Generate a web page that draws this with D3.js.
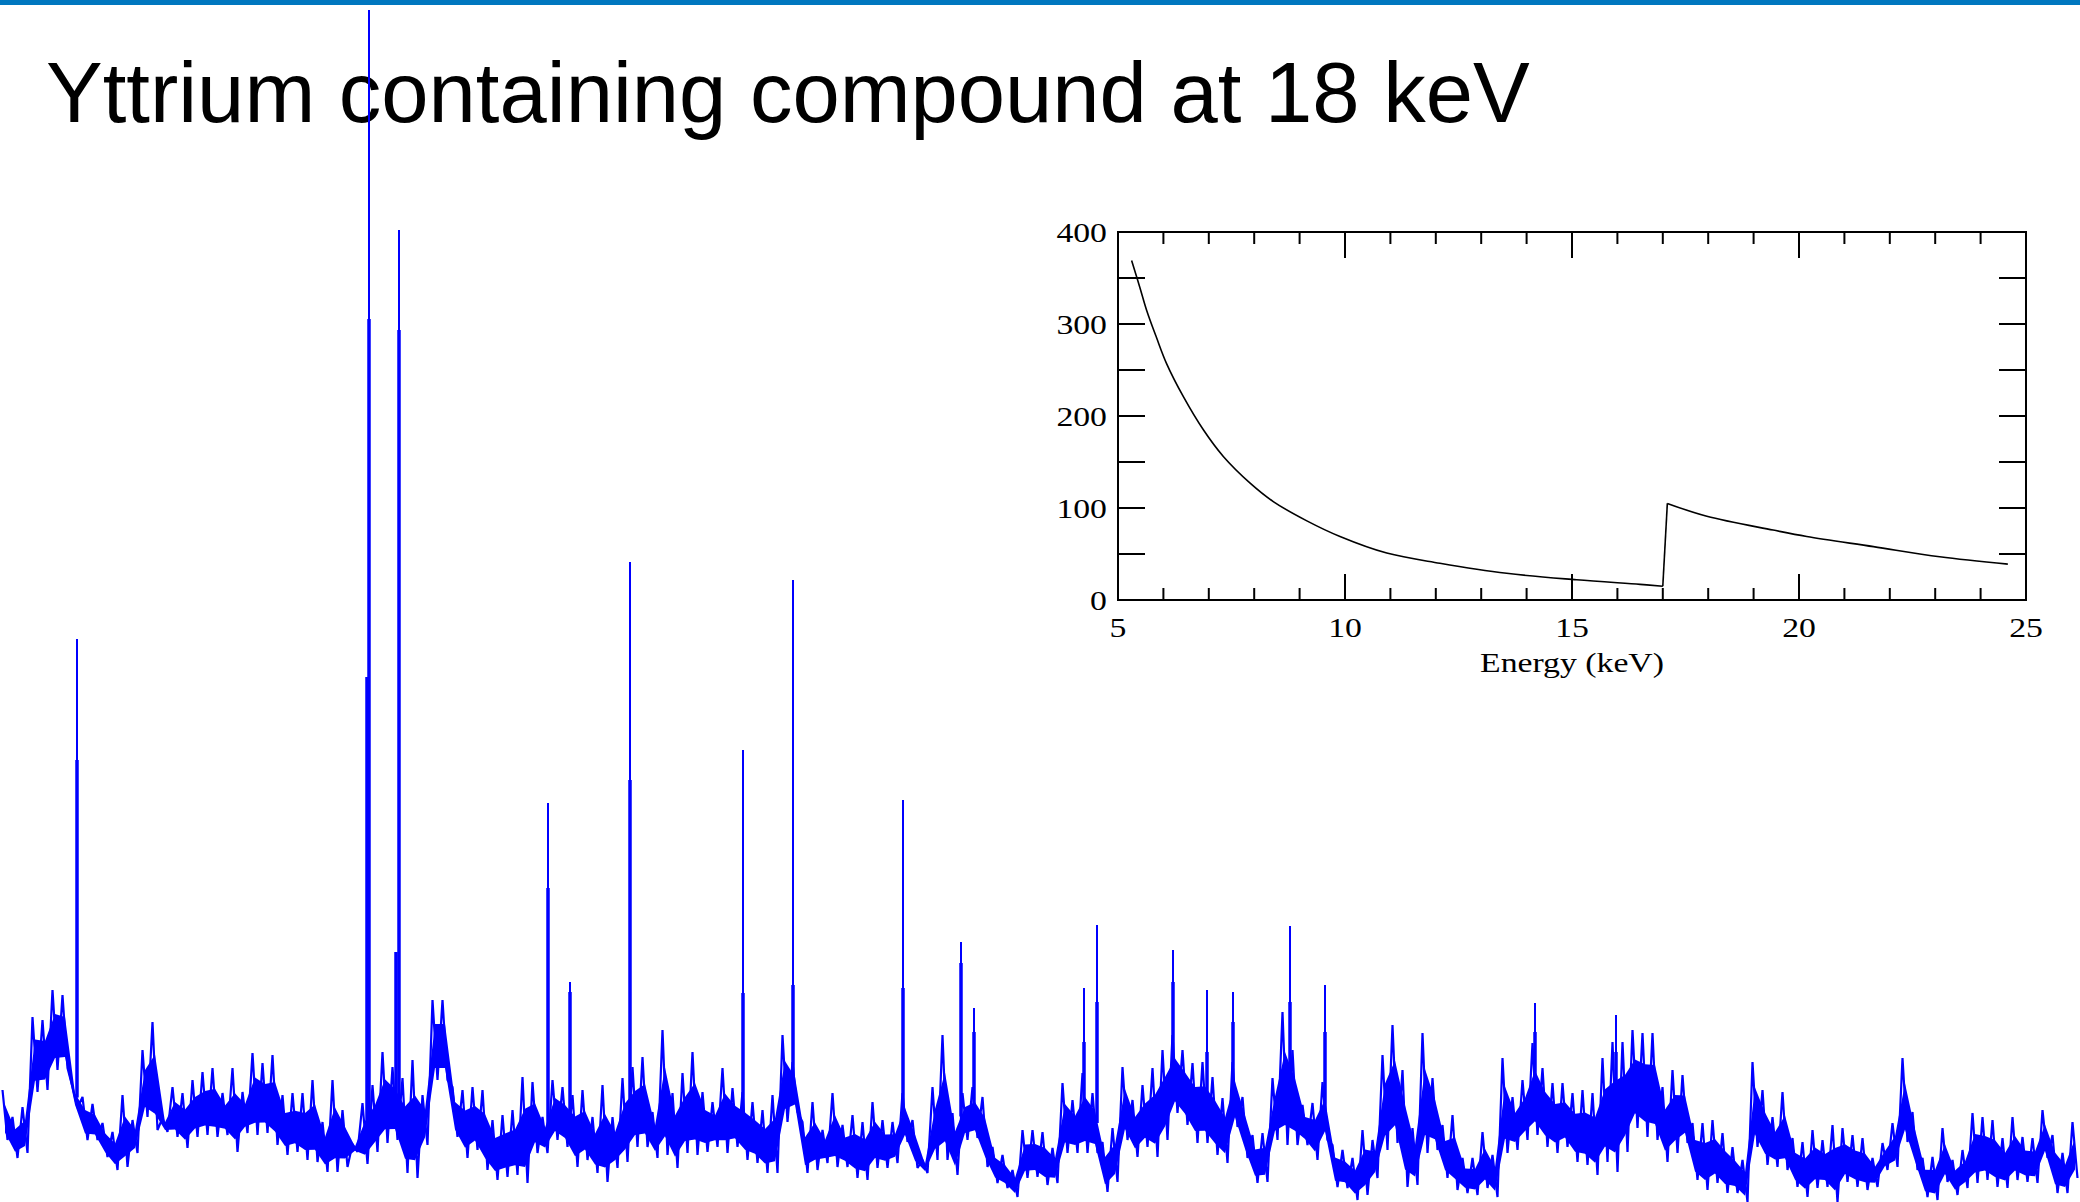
<!DOCTYPE html>
<html>
<head>
<meta charset="utf-8">
<script src="https://cdn.jsdelivr.net/npm/d3@7"></script>
<style>
  body { margin: 0; background: #fff; }
  svg { display: block; }
</style>
</head>
<body>
<div id="chart"></div>
<script>
// slide size
var W = 2080, H = 1202;

var title = "Yttrium containing compound at 18 keV";

// diffraction pattern, binned 10 channels wide: max and min counts per bin
var binWidth = 10;
var binHi = [
  112, 85, 95, 185, 182, 212, 207, 115, 105, 98, 79, 70, 107, 82, 152, 180, 84, 115, 109, 122,
  130, 134, 109, 134, 110, 149, 139, 147, 107, 109, 109, 122, 80, 122, 92, 58, 99, 117, 150, 135,
  124, 142, 107, 202, 202, 115, 112, 115, 112, 82, 87, 92, 125, 120, 85, 122, 115, 107, 112, 85,
  117, 85, 124, 135, 145, 90, 172, 109, 129, 150, 110, 100, 134, 114, 110, 100, 92, 107, 167, 140,
  80, 100, 72, 109, 77, 87, 80, 100, 82, 80, 109, 82, 42, 115, 167, 89, 109, 115, 105, 55,
  47, 32, 72, 72, 70, 54, 119, 102, 129, 109, 60, 74, 135, 102, 117, 134, 152, 167, 152, 139,
  140, 125, 104, 140, 105, 67, 69, 124, 190, 152, 97, 99, 120, 57, 52, 44, 72, 62, 147, 177,
  132, 74, 169, 124, 77, 87, 44, 44, 70, 47, 144, 105, 122, 159, 134, 119, 119, 109, 112, 109,
  144, 160, 160, 172, 169, 169, 115, 132, 127, 79, 79, 82, 69, 55, 42, 140, 112, 85, 110, 64,
  60, 72, 62, 77, 74, 67, 64, 44, 59, 79, 144, 90, 44, 45, 74, 42, 52, 89, 85, 82,
  64, 85, 65, 64, 92, 67, 49, 80
];
var binLo = [
  62, 44, 49, 110, 112, 132, 134, 94, 62, 62, 45, 32, 35, 49, 85, 72, 70, 65, 54, 65,
  67, 65, 67, 50, 69, 67, 69, 57, 47, 50, 42, 40, 30, 30, 35, 50, 38, 50, 59, 62,
  29, 24, 57, 122, 122, 65, 44, 52, 32, 22, 25, 27, 19, 49, 49, 62, 55, 35, 42, 29,
  20, 34, 40, 55, 55, 44, 47, 34, 49, 47, 50, 55, 49, 55, 42, 39, 29, 29, 80, 90,
  29, 32, 39, 35, 35, 24, 22, 34, 34, 39, 60, 34, 29, 42, 42, 27, 62, 64, 35, 19,
  14, 5, 24, 25, 17, 19, 49, 49, 49, 49, 10, 20, 62, 45, 55, 45, 62, 89, 77, 59,
  59, 47, 39, 75, 44, 19, 20, 62, 57, 57, 57, 42, 62, 15, 14, 2, 7, 24, 52, 59,
  15, 17, 49, 52, 24, 12, 9, 7, 14, 5, 49, 52, 62, 67, 55, 49, 55, 40, 37, 27,
  40, 30, 50, 74, 65, 62, 40, 49, 59, 22, 12, 19, 9, 9, 0, 55, 37, 35, 32, 15,
  5, 14, 15, 0, 20, 15, 12, 15, 32, 35, 60, 32, 5, 2, 20, 7, 14, 19, 22, 15,
  14, 22, 20, 19, 44, 9, 9, 24
];

// Bragg peaks: channel, apex counts, counts where the peak is still wide
var peakChan     = [77, 367, 369, 396, 399, 548, 570, 630, 743, 793, 903, 961, 974, 1084, 1097, 1173, 1207, 1233, 1290, 1325, 1535, 1616];
var peakTop      = [563, 525, 1192, 250, 972, 399, 220, 640, 452, 622, 402, 260, 194, 214, 277, 252, 212, 210, 276, 217, 199, 187];
var peakShoulder = [442, 525, 883, 250, 872, 314, 210, 422, 209, 217, 214, 239, 170, 160, 200, 220, 150, 180, 200, 170, 170, 150];

// inset: absorption vs energy (Y K edge near 17 keV)
var energy = [5.30, 5.48, 5.63, 5.85, 6.07, 6.44, 6.88, 7.32, 7.91, 8.42, 9.16, 9.89, 10.92, 12.09, 13.56, 15.10, 16.50, 17.00, 17.10, 17.97, 19.43, 20.17, 21.64, 23.10, 24.60];
var absorb = [369, 340, 315, 285, 257, 221, 185, 156, 127, 107, 86, 69, 51, 40, 29, 22, 17, 15, 105, 91, 76, 69, 58, 47, 39];
var edgeIndex = 17;
var xTicksMajor = [5, 10, 15, 20, 25];
var yTicksMajor = [0, 100, 200, 300, 400];
var xLabel = "Energy (keV)";

var svg = d3.select("#chart").append("svg")
    .attr("width", W)
    .attr("height", H);

// top banner line
svg.append("rect")
    .attr("x", 0).attr("y", 0)
    .attr("width", W).attr("height", 5)
    .attr("fill", "#0077bf");

// title
svg.append("text")
    .attr("x", 46)
    .attr("y", 122)
    .attr("font-family", "Liberation Sans, Arial, sans-serif")
    .attr("font-size", 85)
    .attr("fill", "#000")
    .text(title);

//////////
// PATTERN //
//////////
var x = d3.scaleLinear().domain([0, 2080]).range([0, W]);
var y = d3.scaleLinear().domain([0, 1200]).range([1202, 2]);

var bins = binHi.map(function (h, i) {
    return { c: i * binWidth + binWidth / 2, hi: h, lo: binLo[i] };
});

// dense core of the noise band
var core = d3.area()
    .x(function (d) { return x(d.c); })
    .y0(function (d) { return y(d.lo + (d.hi - d.lo) * 0.15); })
    .y1(function (d) { return y(d.hi - (d.hi - d.lo) * 0.3); });

svg.append("path")
    .datum(bins)
    .attr("d", core)
    .attr("fill", "#0000ff");

// noise excursions: max then min inside every bin
var zig = [];
bins.forEach(function (d) {
    zig.push([d.c - 2.5, d.hi]);
    zig.push([d.c + 2.5, d.lo]);
});

svg.append("path")
    .datum(zig)
    .attr("d", d3.line()
        .x(function (d) { return x(d[0]); })
        .y(function (d) { return y(d[1]); }))
    .attr("fill", "none")
    .attr("stroke", "#0000ff")
    .attr("stroke-width", 2.2)
    .attr("stroke-linejoin", "bevel");

function baseAt(c) {
    var b = bins[Math.min(bins.length - 1, Math.floor(c / binWidth))];
    return (b.hi + b.lo) / 2;
}

var peaks = svg.append("g").attr("stroke", "#0000ff");
peakChan.forEach(function (c, i) {
    peaks.append("line")
        .attr("x1", x(c)).attr("x2", x(c))
        .attr("y1", y(baseAt(c))).attr("y2", y(peakShoulder[i]))
        .attr("stroke-width", 3.5);
    peaks.append("line")
        .attr("x1", x(c)).attr("x2", x(c))
        .attr("y1", y(baseAt(c))).attr("y2", y(peakTop[i]))
        .attr("stroke-width", 2);
});

//////////
// INSET //
//////////
var ix = d3.scaleLinear().domain([5, 25]).range([1118, 2026]);
var iy = d3.scaleLinear().domain([0, 400]).range([600, 232]);
var inset = svg.append("g")
    .attr("stroke", "#000")
    .attr("fill", "none");

inset.append("rect")
    .attr("x", ix(5)).attr("y", iy(400))
    .attr("width", ix(25) - ix(5)).attr("height", iy(0) - iy(400))
    .attr("stroke-width", 2);

// x ticks every 1 keV, longer every 5, on bottom and top
d3.range(6, 25).forEach(function (e) {
    var len = (e % 5 === 0) ? 26 : 12;
    inset.append("line")
        .attr("x1", ix(e)).attr("x2", ix(e))
        .attr("y1", iy(0)).attr("y2", iy(0) - len)
        .attr("stroke-width", 2);
    inset.append("line")
        .attr("x1", ix(e)).attr("x2", ix(e))
        .attr("y1", iy(400)).attr("y2", iy(400) + len)
        .attr("stroke-width", 2);
});
// y ticks every 50 on left and right
d3.range(50, 400, 50).forEach(function (v) {
    inset.append("line")
        .attr("x1", ix(5)).attr("x2", ix(5) + 27)
        .attr("y1", iy(v)).attr("y2", iy(v))
        .attr("stroke-width", 2);
    inset.append("line")
        .attr("x1", ix(25)).attr("x2", ix(25) - 27)
        .attr("y1", iy(v)).attr("y2", iy(v))
        .attr("stroke-width", 2);
});

var pts = energy.map(function (e, i) { return [e, absorb[i]]; });
var smooth = d3.line()
    .x(function (d) { return ix(d[0]); })
    .y(function (d) { return iy(d[1]); })
    .curve(d3.curveCatmullRom.alpha(0.5));
var straight = d3.line()
    .x(function (d) { return ix(d[0]); })
    .y(function (d) { return iy(d[1]); });

// below the edge, the jump, above the edge
inset.append("path").datum(pts.slice(0, edgeIndex + 1)).attr("d", smooth).attr("stroke-width", 1.6);
inset.append("path").datum(pts.slice(edgeIndex, edgeIndex + 2)).attr("d", straight).attr("stroke-width", 1.6);
inset.append("path").datum(pts.slice(edgeIndex + 1)).attr("d", smooth).attr("stroke-width", 1.6);

var serif = "Liberation Serif, Times New Roman, serif";
var stretch = 1.25;

yTicksMajor.forEach(function (v) {
    svg.append("text")
        .attr("transform", "translate(1107," + (iy(v) + 10) + ") scale(" + stretch + ",1)")
        .attr("text-anchor", "end")
        .attr("font-family", serif)
        .attr("font-size", 27)
        .attr("fill", "#000")
        .text(v);
});
xTicksMajor.forEach(function (e) {
    svg.append("text")
        .attr("transform", "translate(" + ix(e) + ",637) scale(" + stretch + ",1)")
        .attr("text-anchor", "middle")
        .attr("font-family", serif)
        .attr("font-size", 27)
        .attr("fill", "#000")
        .text(e);
});
svg.append("text")
    .attr("transform", "translate(" + ix(15) + ",672) scale(" + stretch + ",1)")
    .attr("text-anchor", "middle")
    .attr("font-family", serif)
    .attr("font-size", 27)
    .attr("fill", "#000")
    .text(xLabel);
</script>
</body>
</html>
